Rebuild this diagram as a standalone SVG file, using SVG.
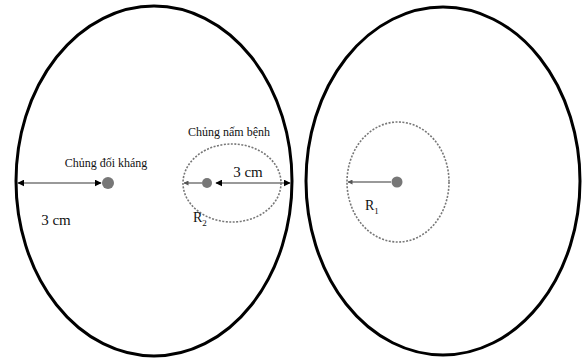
<svg xmlns="http://www.w3.org/2000/svg" width="583" height="360" viewBox="0 0 583 360">
<style>
.big{fill:none;stroke:#000;stroke-width:3}
.dash{fill:none;stroke:#777;stroke-width:1.6;stroke-dasharray:2 1.5}
.dot{fill:#777}
.ln{stroke:#777;stroke-width:1.5;fill:none}
.lbl{fill:#111}
</style>
<defs>
<marker id="ah" viewBox="0 0 10 10" refX="9" refY="5" markerWidth="7" markerHeight="7" orient="auto-start-reverse" markerUnits="userSpaceOnUse">
<path d="M0,0 L10,5 L0,10 z" fill="#000"/>
</marker>
<marker id="ahs" viewBox="0 0 10 10" refX="9" refY="5" markerWidth="5" markerHeight="5" orient="auto-start-reverse" markerUnits="userSpaceOnUse">
<path d="M0,0 L10,5 L0,10 z" fill="#555"/>
</marker>
</defs>
<g id="plate-left">
<ellipse class="big" cx="154" cy="181" rx="138" ry="175"/>
</g>
<g id="plate-right">
<ellipse class="big" cx="443" cy="181" rx="137" ry="174"/>
</g>
<g id="antagonist">
<circle class="dot" cx="108" cy="183" r="6"/>
<text class="lbl" font-family="'Liberation Serif', 'Times New Roman', serif" x="106" y="167" font-size="12" text-anchor="middle">Chủng đối kháng</text>
</g>
<g id="pathogen-left">
<ellipse class="dash" cx="232" cy="183" rx="49" ry="39"/>
<circle class="dot" cx="207" cy="183" r="5"/>
<text class="lbl" font-family="'Liberation Serif', 'Times New Roman', serif" x="229" y="136" font-size="12" text-anchor="middle">Chủng nấm bệnh</text>
</g>
<g id="pathogen-right">
<ellipse class="dash" cx="398" cy="182" rx="51" ry="60"/>
<circle class="dot" cx="397" cy="182" r="5.5"/>
</g>
<g id="connectors">
<line class="ln" x1="18" y1="183" x2="101" y2="183" marker-start="url(#ah)" marker-end="url(#ah)"/>
<line class="ln" x1="216" y1="183" x2="290" y2="183" marker-start="url(#ah)" marker-end="url(#ah)"/>
<line class="ln" x1="202" y1="183" x2="184" y2="183" marker-end="url(#ahs)"/>
<line class="ln" x1="391" y1="182" x2="348" y2="182" marker-end="url(#ahs)"/>
</g>
<g id="labels" font-family="'Liberation Serif', 'Times New Roman', serif">
<text class="lbl" x="56" y="225" font-size="15" text-anchor="middle">3 cm</text>
<text class="lbl" x="248" y="177" font-size="15" text-anchor="middle">3 cm</text>
<text class="lbl" x="193" y="222" font-size="14">R<tspan font-size="9" dy="4">2</tspan></text>
<text class="lbl" x="365" y="210" font-size="14">R<tspan font-size="9" dy="4">1</tspan></text>
</g>
</svg>
